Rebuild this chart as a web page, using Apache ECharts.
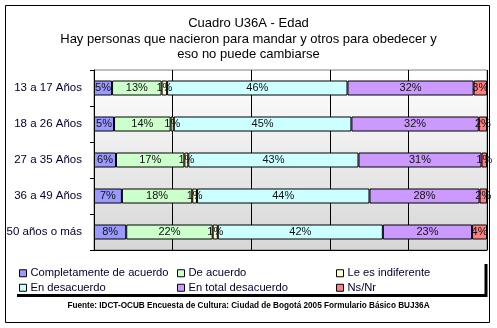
<!DOCTYPE html>
<html>
<head>
<meta charset="utf-8">
<script src="https://cdn.jsdelivr.net/npm/echarts@6/dist/echarts.min.js"></script>
<style>html,body{margin:0;padding:0;background:#fff;}#c{width:497px;height:328px;}</style>
</head>
<body>
<div id="c"></div>
<script>
var categories = ['13 a 17 Años', '18 a 26 Años', '27 a 35 Años', '36 a 49 Años', '50 años o más'];
var seriesNames = ['Completamente de acuerdo', 'De acuerdo', 'Le es indiferente', 'En desacuerdo', 'En total desacuerdo', 'Ns/Nr'];
var completamente = [4.6, 5.1, 5.6, 7.1, 8.2];
var deAcuerdo = [12.6, 14.4, 17.4, 17.9, 22.0];
var indiferente = [1.4, 0.8, 1.0, 1.2, 1.3];
var desacuerdo = [45.9, 45.2, 43.3, 43.9, 42.0];
var totalDesacuerdo = [32.1, 32.4, 31.3, 28.0, 22.7];
var nsnr = [3.4, 2.1, 1.4, 1.9, 3.8];
var colors = ['#9999FF', '#CCFFCC', '#FFFFCC', '#CCFFFF', '#CC99FF', '#FF8080'];
var titleText = 'Cuadro U36A - Edad\nHay personas que nacieron para mandar y otros para obedecer y\neso no puede cambiarse';
var sourceText = 'Fuente: IDCT-OCUB Encuesta de Cultura: Ciudad de Bogotá 2005 Formulario Básico BUJ36A';

var allData = [completamente, deAcuerdo, indiferente, desacuerdo, totalDesacuerdo, nsnr];
var font = 'Arial, "Liberation Sans", sans-serif';

var series = allData.map(function (d, i) {
  return {
    name: seriesNames[i],
    type: 'bar',
    stack: 'total',
    data: d,
    barWidth: 15,
    itemStyle: { color: colors[i], borderColor: '#000', borderWidth: 1 },
    label: {
      show: true,
      position: 'inside',
      fontFamily: font,
      fontSize: 11,
      color: '#111',
      formatter: function (p) { return Math.round(p.value) + '%'; }
    },
    emphasis: { disabled: true }
  };
});

function legendCol(left, names) {
  return {
    orient: 'vertical',
    left: left,
    top: 267,
    padding: 0,
    itemGap: 2,
    itemWidth: 7,
    itemHeight: 7,
    icon: 'rect',
    selectedMode: false,
    itemStyle: { borderColor: '#000', borderWidth: 1 },
    textStyle: { fontFamily: font, fontSize: 11.2, color: '#000033', lineHeight: 12.5, padding: [0, 0, 0, -1] },
    data: names
  };
}

var chart = echarts.init(document.getElementById('c'));
chart.setOption({
  animation: false,
  color: colors,
  title: {
    text: titleText,
    left: 'center',
    top: 16,
    padding: 0,
    textStyle: { fontFamily: font, fontSize: 13, fontWeight: 'normal', color: '#000', lineHeight: 15.5 }
  },
  legend: [
    legendCol(19, [seriesNames[0], seriesNames[3]]),
    legendCol(177, [seriesNames[1], seriesNames[4]]),
    legendCol(336, [seriesNames[2], seriesNames[5]])
  ],
  grid: {
    left: 94, right: 10, top: 70, bottom: 78,
    show: true,
    borderColor: '#808080',
    borderWidth: 1,
    backgroundColor: new echarts.graphic.LinearGradient(0, 0, 0, 1, [
      { offset: 0, color: '#ffffff' },
      { offset: 1, color: '#d6d6d6' }
    ])
  },
  xAxis: {
    type: 'value',
    min: 0, max: 100, interval: 20,
    axisLabel: { show: false },
    axisTick: { show: false },
    axisLine: { show: true, lineStyle: { color: '#000', width: 1 } },
    splitLine: { show: true, lineStyle: { color: '#000', width: 1 } }
  },
  yAxis: {
    type: 'category',
    inverse: true,
    data: categories,
    axisLine: { show: true, lineStyle: { color: '#000', width: 1 } },
    axisTick: { show: true, length: 4, lineStyle: { color: '#000' } },
    axisLabel: { fontFamily: font, fontSize: 11.5, color: '#000033', margin: 12 }
  },
  series: series,
  graphic: [
    { type: 'rect', shape: { x: 5.5, y: 5.5, width: 484, height: 317 }, style: { fill: null, stroke: '#000', lineWidth: 1 }, silent: true },
    { type: 'polyline', shape: { points: [[17, 295.5], [486, 295.5], [486, 264]] }, style: { fill: null, stroke: '#000', lineWidth: 3 }, silent: true },
    { type: 'text', left: 'center', top: 302, style: { text: sourceText, fontFamily: font, fontSize: 8.2, fontWeight: 'bold', fill: '#000' }, silent: true }
  ]
});
</script>
</body>
</html>
